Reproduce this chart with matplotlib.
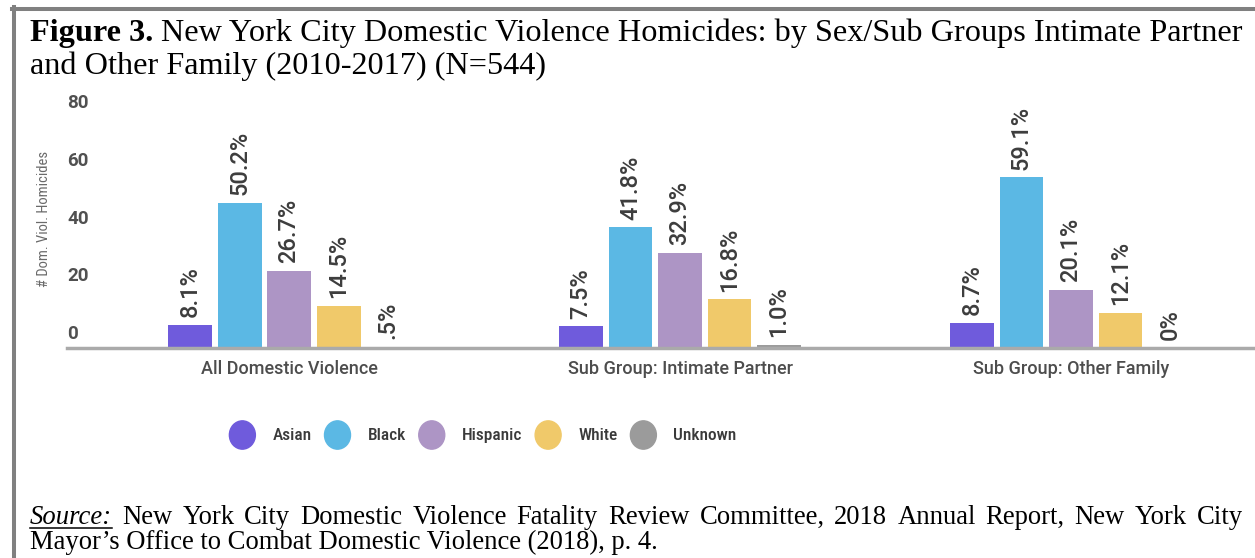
import numpy as np
import matplotlib
matplotlib.use('Agg')
import matplotlib.pyplot as plt
from matplotlib.patches import Ellipse, Patch
from matplotlib.legend_handler import HandlerPatch
from matplotlib.lines import Line2D

# Data (bar height = percentage of the group)
groups = ['All Domestic Violence', 'Sub Group: Intimate Partner', 'Sub Group: Other Family']
races = ['Asian', 'Black', 'Hispanic', 'White', 'Unknown']
asian = [8.1, 7.5, 8.7]
black = [50.2, 41.8, 59.1]
hispanic = [26.7, 32.9, 20.1]
white = [14.5, 16.8, 12.1]
unknown = [0.5, 1.0, 0.0]
asian_lbl = ['8.1%', '7.5%', '8.7%']
black_lbl = ['50.2%', '41.8%', '59.1%']
hispanic_lbl = ['26.7%', '32.9%', '20.1%']
white_lbl = ['14.5%', '16.8%', '12.1%']
unknown_lbl = ['.5%', '1.0%', '0%']
yticks = [0, 20, 40, 60, 80]

title_bold = 'Figure 3.'
title_rest = 'New York City Domestic Violence Homicides: by Sex/Sub Groups Intimate Partner'
title_line2 = 'and Other Family (2010-2017) (N=544)'
source_line1 = 'New York City Domestic Violence Fatality Review Committee, 2018 Annual Report, New York City'
source_line2 = 'Mayor\u2019s Office to Combat Domestic Violence (2018), p. 4.'

colors = ['#6f5bdc', '#5bb8e4', '#ad95c5', '#f0c96a', '#9b9b9b']

plt.rcParams['font.family'] = ['Roboto', 'DejaVu Sans']
NARROW = ['Roboto Condensed', 'Roboto']
SERIF = 'Liberation Serif'

W, H = 1255, 558
fig = plt.figure(figsize=(W / 100, H / 100), dpi=100)

# axes placed in pixel terms: baseline at y=348, 80 at y=117
ax = fig.add_axes([67 / W, 1 - 348 / H, (1255 - 67) / W, (348 - 117) / H])

x = np.arange(len(groups))
step = 0.1266
width = 0.1125
series = [asian, black, hispanic, white, unknown]
labels = [asian_lbl, black_lbl, hispanic_lbl, white_lbl, unknown_lbl]
for k, (vals, lbls) in enumerate(zip(series, labels)):
    bars = ax.bar(x + (k - 2) * step, vals, width, color=colors[k], zorder=2)
    ax.bar_label(bars, labels=lbls, rotation=90, padding=5.5, fontsize=17,
                 fontweight='medium', color='#3d3d3d')

ax.set_xlim(-0.5678, 2.4706)
ax.set_ylim(0, 80)
ax.set_xticks(x, groups)
ax.tick_params(axis='x', length=0, pad=9, labelsize=13, labelcolor='#4d4d4d')
for lab in ax.get_xticklabels():
    lab.set_fontweight('medium')
ax.set_yticks([])
for v in yticks:
    ax.annotate(str(v), xy=(0, v), xycoords=('axes fraction', 'data'), xytext=(0, 3.5),
                textcoords='offset points', ha='left', va='bottom', fontsize=13.5,
                fontweight='bold', color='#505050')
for s in ['top', 'right', 'left']:
    ax.spines[s].set_visible(False)
ax.spines['bottom'].set_color('#aaaaaa')
ax.spines['bottom'].set_linewidth(2.5)
ax.spines['bottom'].set_zorder(3)

fig.text(44 / W, 1 - 219 / H, '# Dom. Viol. Homicides', rotation=90, ha='center', va='center',
         fontsize=10.5, color='#6a6a6a', family=NARROW)

# legend with oval keys
def ellipse_key(legend, orig_handle, xdescent, ydescent, width, height, fontsize):
    return Ellipse((width / 2 - xdescent, height / 2 - ydescent), width, height)

handles = [Patch(color=c, label=r) for c, r in zip(colors, races)]
leg_size = 12.5
px = leg_size * 100 / 72
fig.legend(handles=handles, loc='center', bbox_to_anchor=(483 / W, 1 - 435 / H), ncol=5,
           frameon=False, prop={'family': NARROW, 'size': leg_size, 'weight': 'medium'},
           labelcolor='#3a3a3a',
           handlelength=26 / px, handleheight=37 / px,
           handletextpad=17 / px, columnspacing=13 / px,
           handler_map={Patch: HandlerPatch(patch_func=ellipse_key)})

r = fig.canvas.get_renderer()

# title
t1 = fig.text(30 / W, 1 - 41 / H, title_bold, fontsize=23.2, fontweight='bold', family=SERIF,
              va='baseline', color='black')
bb = t1.get_window_extent(renderer=r)
fig.text((bb.x1 + 8) / W, 1 - 41 / H, title_rest, fontsize=23.2, family=SERIF, va='baseline')
fig.text(30 / W, 1 - 74 / H, title_line2, fontsize=23.2, family=SERIF, va='baseline')

# source note, first line justified between x=30 and x=1243
src_size = 19.2
y1 = 1 - 524 / H
words = source_line1.split(' ')
items = [fig.text(0, y1, 'Source:', fontsize=src_size, family=SERIF, style='italic', va='baseline')]
items += [fig.text(0, y1, w, fontsize=src_size, family=SERIF, va='baseline') for w in words]
widths = [t.get_window_extent(renderer=r).width for t in items]
gap = (1243 - 30 - sum(widths)) / (len(items) - 1)
pos = 30
for t, w in zip(items, widths):
    t.set_x(pos / W)
    pos += w + gap
fig.add_artist(Line2D([30 / W, (30 + widths[0]) / W], [1 - 528 / H] * 2, color='black', lw=1.1))
fig.text(30 / W, 1 - 549 / H, source_line2, fontsize=src_size, family=SERIF, va='baseline')

# grey frame (left and top edges)
fig.add_artist(Line2D([14 / W, 14 / W], [0, 1 - 7 / H], color='#808080', lw=2.9))
fig.add_artist(Line2D([12 / W, 1], [1 - 9 / H] * 2, color='#808080', lw=2.9))

fig.savefig('out.png', dpi=100)
